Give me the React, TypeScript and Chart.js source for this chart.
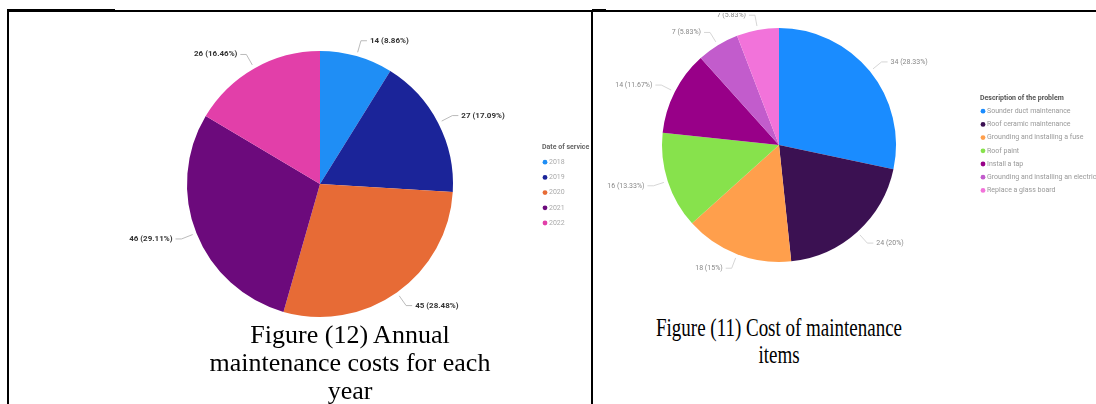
import React, { useEffect, useRef } from "react";
import { Chart, registerables } from "chart.js";

Chart.register(...registerables);

// Annual maintenance cost per year
const yearLabels = ["2018", "2019", "2020", "2021", "2022"];
const yearCosts = [14, 27, 45, 46, 26];
const yearColors = ["#1f8ef5", "#1b2499", "#e76b36", "#6c0a7c", "#e23fa9"];

// Maintenance cost per item
const itemLabels = [
  "Sounder duct maintenance",
  "Roof ceramic maintenance",
  "Grounding and installing a fuse",
  "Roof paint",
  "Install a tap",
  "Grounding and installing an electric box",
  "Replace a glass board",
];
const itemCosts = [34, 24, 18, 16, 14, 7, 7];
const itemColors = ["#1a8cff", "#3b1152", "#ff9f4c", "#87e24c", "#980088", "#c25ccc", "#f273da"];

type LabelOpts = {
  font: string;
  color: string;
  lineColor: string;
  gap0: number;
  gap1: number;
  tick: number;
};

// Value + share labels outside each slice, with a short leader line
const outsideLabels = (o: LabelOpts) => ({
  id: "outsideLabels",
  afterDatasetsDraw(chart: any) {
    const meta = chart.getDatasetMeta(0);
    const data = chart.data.datasets[0].data as number[];
    const total = data.reduce((a, b) => a + b, 0);
    const ctx = chart.ctx as CanvasRenderingContext2D;
    ctx.save();
    ctx.font = o.font;
    ctx.textBaseline = "middle";
    meta.data.forEach((arc: any, i: number) => {
      const p = arc.getProps(["x", "y", "startAngle", "endAngle", "outerRadius"], true);
      const mid = (p.startAngle + p.endAngle) / 2;
      const c = Math.cos(mid);
      const s = Math.sin(mid);
      const right = c >= 0;
      const x1 = p.x + c * (p.outerRadius + o.gap0);
      const y1 = p.y + s * (p.outerRadius + o.gap0);
      const x2 = p.x + c * (p.outerRadius + o.gap1);
      const y2 = p.y + s * (p.outerRadius + o.gap1);
      const x3 = x2 + (right ? o.tick : -o.tick);
      ctx.strokeStyle = o.lineColor;
      ctx.lineWidth = 0.8;
      ctx.beginPath();
      ctx.moveTo(x1, y1);
      ctx.lineTo(x2, y2);
      ctx.lineTo(x3, y2);
      ctx.stroke();
      const pct = parseFloat(((data[i] / total) * 100).toFixed(2));
      ctx.fillStyle = o.color;
      ctx.textAlign = right ? "left" : "right";
      ctx.fillText(`${data[i]} (${pct}%)`, x3 + (right ? 3 : -3), y2);
    });
    ctx.restore();
  },
});

type LegendOpts = {
  title: string;
  x: number;
  y: number;
  step: number;
  titleFont: string;
  titleColor: string;
  font: string;
  color: string;
};

// Compact legend with a title and round markers
const sideLegend = (o: LegendOpts) => ({
  id: "sideLegend",
  afterDraw(chart: any) {
    const ctx = chart.ctx as CanvasRenderingContext2D;
    const labels = chart.data.labels as string[];
    const colors = chart.data.datasets[0].backgroundColor as string[];
    ctx.save();
    ctx.textBaseline = "middle";
    ctx.textAlign = "left";
    ctx.font = o.titleFont;
    ctx.fillStyle = o.titleColor;
    ctx.fillText(o.title, o.x - 3, o.y);
    labels.forEach((lab, i) => {
      const yy = o.y + o.step * (i + 1);
      ctx.fillStyle = colors[i];
      ctx.beginPath();
      ctx.arc(o.x, yy, 2.4, 0, Math.PI * 2);
      ctx.fill();
      ctx.font = o.font;
      ctx.fillStyle = o.color;
      ctx.fillText(lab, o.x + 4, yy);
    });
    ctx.restore();
  },
});

function PieChart(props: {
  labels: string[];
  values: number[];
  colors: string[];
  width: number;
  height: number;
  padding: { left: number; right: number; top: number; bottom: number };
  labelOpts: LabelOpts;
  legendOpts: LegendOpts;
}) {
  const ref = useRef<HTMLCanvasElement | null>(null);
  useEffect(() => {
    if (!ref.current) return;
    const chart = new Chart(ref.current, {
      type: "pie",
      data: {
        labels: props.labels,
        datasets: [
          {
            data: props.values,
            backgroundColor: props.colors,
            borderWidth: 0,
          },
        ],
      },
      options: {
        responsive: false,
        animation: false,
        devicePixelRatio: 1,
        layout: { padding: props.padding },
        plugins: {
          legend: { display: false },
          tooltip: { enabled: false },
        },
      },
      plugins: [outsideLabels(props.labelOpts), sideLegend(props.legendOpts)],
    });
    return () => chart.destroy();
  }, []);
  return (
    <canvas
      ref={ref}
      width={props.width}
      height={props.height}
      style={{ display: "block", filter: "blur(0.5px)" }}
    />
  );
}

const line = (left: number, top: number, width: number, height: number) => (
  <div style={{ position: "absolute", left, top, width, height, background: "#000" }} />
);

const captionStyle: React.CSSProperties = {
  position: "absolute",
  fontFamily: "'Liberation Serif', 'Times New Roman', serif",
  fontSize: 26,
  lineHeight: "28px",
  textAlign: "center",
  color: "#000",
  whiteSpace: "nowrap",
};

export default function App() {
  return (
    <div
      style={{
        position: "absolute",
        left: 0,
        top: 0,
        width: 1096,
        height: 404,
        background: "#fff",
        overflow: "hidden",
      }}
    >
      <div style={{ position: "absolute", left: 9, top: 13 }}>
        <PieChart
          labels={yearLabels}
          values={yearCosts}
          colors={yearColors}
          width={582}
          height={316}
          padding={{ left: 178, right: 138, top: 38, bottom: 12 }}
          labelOpts={{
            font: "bold 8px Roboto, 'DejaVu Sans', sans-serif",
            color: "#333",
            lineColor: "#aaa",
            gap0: 4,
            gap1: 16,
            tick: 6,
          }}
          legendOpts={{
            title: "Date of service",
            x: 536,
            y: 134,
            step: 15.2,
            titleFont: "bold 7px Roboto, sans-serif",
            titleColor: "#666",
            font: "7px Roboto, sans-serif",
            color: "#aaa",
          }}
        />
      </div>
      <div style={{ position: "absolute", left: 594, top: 13 }}>
        <PieChart
          labels={itemLabels}
          values={itemCosts}
          colors={itemColors}
          width={502}
          height={286}
          padding={{ left: 68, right: 200, top: 15, bottom: 37 }}
          labelOpts={{
            font: "7px Roboto, 'DejaVu Sans', sans-serif",
            color: "#888",
            lineColor: "#ccc",
            gap0: 4,
            gap1: 15,
            tick: 6,
          }}
          legendOpts={{
            title: "Description of the problem",
            x: 389,
            y: 85,
            step: 13.2,
            titleFont: "bold 7px Roboto, sans-serif",
            titleColor: "#555",
            font: "7px Roboto, sans-serif",
            color: "#999",
          }}
        />
      </div>

      {line(7, 10, 1089, 2)}
      {line(7, 9, 108, 3)}
      {line(7, 10, 2, 394)}
      {line(591, 10, 2, 394)}
      {line(592, 9, 14, 3)}

      <div style={{ ...captionStyle, left: 150, top: 321, width: 400 }}>
        Figure (12) Annual
        <br />
        maintenance costs for each
        <br />
        year
      </div>
      <div
        style={{
          ...captionStyle,
          left: 579,
          top: 314,
          width: 400,
          lineHeight: "27px",
          transform: "scaleX(0.73)",
          transformOrigin: "200px 0",
        }}
      >
        Figure (11) Cost of maintenance
        <br />
        items
      </div>
    </div>
  );
}
